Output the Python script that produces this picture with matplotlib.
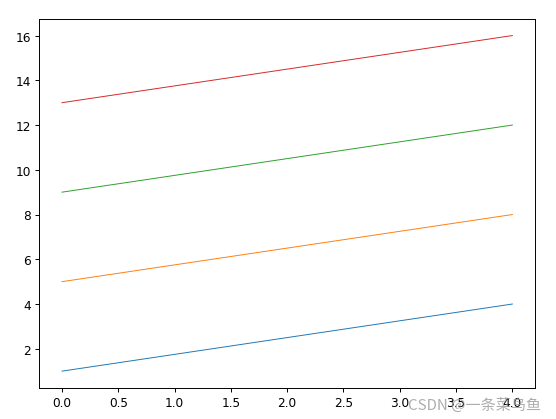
import numpy as np
import matplotlib.pyplot as plt

plt.rcParams['font.family'] = ['DejaVu Sans', 'Noto Sans CJK SC']

# line data (start and end of each line)
x = [0, 4]
y1 = [1, 4]
y2 = [5, 8]
y3 = [9, 12]
y4 = [13, 16]
colors = ['#1f77b4', '#ff7f0e', '#2ca02c', '#d62728']

fig = plt.figure(figsize=(6.4, 4.834), dpi=86.875)
ax = fig.add_axes([0.071, 0.074, 0.891, 0.879])

for y, c in zip([y1, y2, y3, y4], colors):
    ax.plot(x, y, color=c, linewidth=0.8)

# watermark
fig.text(0.973, 0.016, 'CSDN @一条菜鸟鱼', ha='right', va='bottom',
         fontsize=12.5, color='#999999', alpha=0.8,
         family=['Noto Sans CJK SC', 'DejaVu Sans'])

fig.savefig('out.png')
